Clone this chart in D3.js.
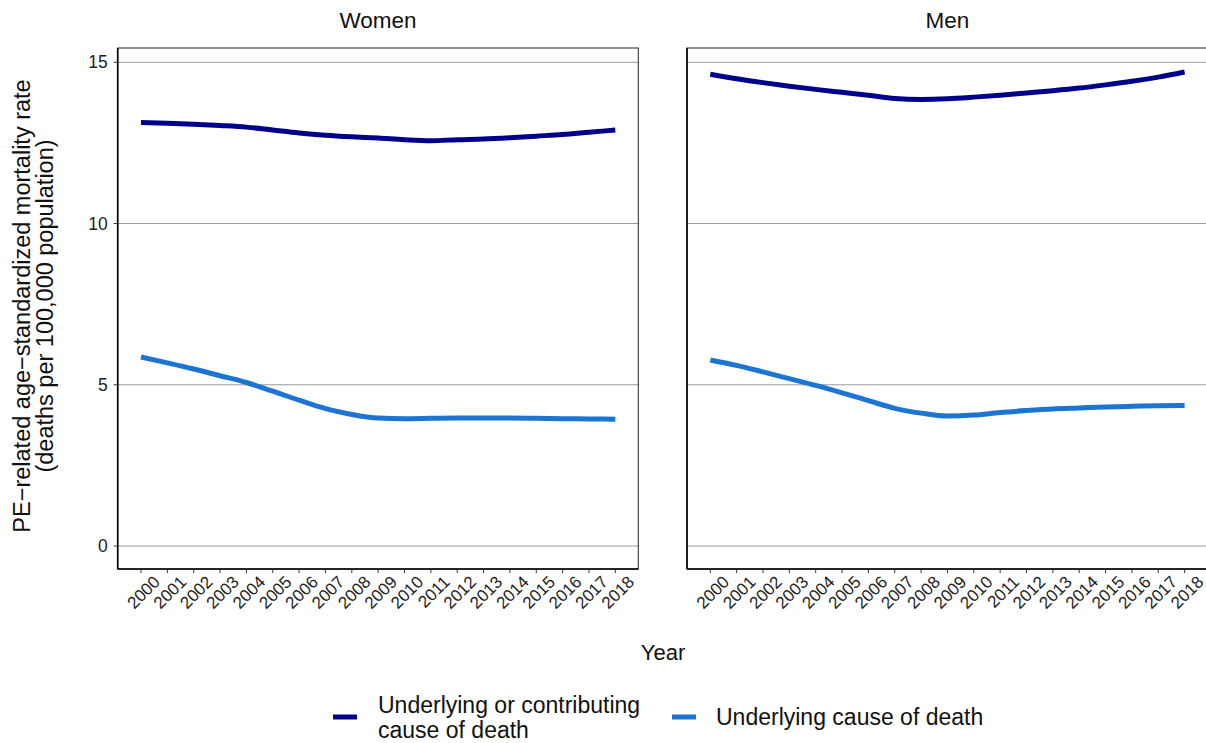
<!DOCTYPE html>
<html><head><meta charset="utf-8">
<script src="https://cdn.jsdelivr.net/npm/d3@7"></script>
<style>body{margin:0;background:#fff}svg{display:block;font-family:"Liberation Sans",Arial,sans-serif}</style>
</head><body><svg id="c" width="1206" height="743"></svg>
<script>
const years = d3.range(2000, 2019);
const panels = ["Women", "Men"];
const seriesNames = ["Underlying or contributing cause of death", "Underlying cause of death"];
const womenContributing = [13.13,13.11,13.08,13.04,12.99,12.90,12.81,12.74,12.69,12.65,12.60,12.57,12.60,12.62,12.66,12.71,12.76,12.83,12.90];
const womenUnderlying  = [5.86,5.68,5.49,5.28,5.07,4.80,4.52,4.26,4.08,3.97,3.95,3.96,3.97,3.97,3.97,3.96,3.95,3.94,3.93];
const menContributing  = [14.63,14.49,14.37,14.26,14.16,14.07,13.98,13.88,13.85,13.87,13.92,13.98,14.05,14.12,14.20,14.30,14.41,14.54,14.70];
const menUnderlying    = [5.77,5.60,5.40,5.19,4.98,4.75,4.51,4.27,4.12,4.03,4.06,4.14,4.20,4.25,4.28,4.31,4.33,4.35,4.36];
const yTicks = [0, 5, 10, 15];
const colors = ["#00008B", "#1C74D3"];

const data = {
  Women: [womenContributing, womenUnderlying],
  Men: [menContributing, menUnderlying]
};

const svg = d3.select("#c");
const panelX = [117.7, 687];
const panelW = 520.6, pTop = 48, pBottom = 569;

const y = d3.scaleLinear().domain([0, 15]).range([546, 62.3]);
const x = d3.scaleLinear().domain([2000, 2018]).range([23.3, 497.6]);

panels.forEach((p, i) => {
  const g = svg.append("g").attr("transform", `translate(${panelX[i]},0)`);
  g.selectAll(".grid").data(yTicks).join("line")
    .attr("x1", 0).attr("x2", panelW)
    .attr("y1", d => y(d)).attr("y2", d => y(d))
    .attr("stroke", "#9a9a9a").attr("stroke-width", 1);
  g.append("rect").attr("x", 0).attr("y", pTop).attr("width", panelW).attr("height", pBottom - pTop)
    .attr("fill", "none").attr("stroke", "#222").attr("stroke-width", 1);
  g.append("line").attr("x1", 0).attr("x2", 0).attr("y1", pTop).attr("y2", pBottom)
    .attr("stroke", "#000").attr("stroke-width", 1.6);
  g.append("line").attr("x1", 0).attr("x2", panelW).attr("y1", pBottom).attr("y2", pBottom)
    .attr("stroke", "#000").attr("stroke-width", 1.3);
  g.selectAll(".xt").data(years).join("line")
    .attr("x1", d => x(d)).attr("x2", d => x(d)).attr("y1", pBottom).attr("y2", pBottom + 4)
    .attr("stroke", "#333").attr("stroke-width", 1);
  g.selectAll(".xl").data(years).join("text")
    .attr("transform", d => `translate(${x(d) + 20},583) rotate(-45)`)
    .attr("text-anchor", "end").attr("font-size", 17).attr("fill", "#222")
    .text(d => d);
  if (i === 0) {
    g.selectAll(".yt").data(yTicks).join("line")
      .attr("x1", -4).attr("x2", 0).attr("y1", d => y(d)).attr("y2", d => y(d))
      .attr("stroke", "#333");
    g.selectAll(".yl").data(yTicks).join("text")
      .attr("x", -10).attr("y", d => y(d)).attr("dy", "0.35em")
      .attr("text-anchor", "end").attr("font-size", 17.5).attr("fill", "#222")
      .text(d => d);
  }
  const line = d3.line().x((d, j) => x(years[j])).y(d => y(d)).curve(d3.curveMonotoneX);
  data[p].forEach((s, k) => {
    g.append("path").attr("d", line(s)).attr("fill", "none")
      .attr("stroke", colors[k]).attr("stroke-width", 5);
  });
  g.append("text").attr("x", panelW / 2).attr("y", 28).attr("text-anchor", "middle")
    .attr("font-size", 22.5).attr("fill", "#111").text(p);
});

svg.append("text").attr("x", 663).attr("y", 660).attr("text-anchor", "middle")
  .attr("font-size", 22).attr("fill", "#111").text("Year");
const yl = svg.append("text").attr("transform", "translate(0,306) rotate(-90)")
  .attr("text-anchor", "middle").attr("font-size", 23.5).attr("fill", "#111");
yl.append("tspan").attr("x", 0).attr("y", 30).text("PE\u2212related age\u2212standardized mortality rate");
yl.append("tspan").attr("x", 0).attr("y", 53).text("(deaths per 100,000 population)");

const leg = [
  {k: 0, x: 333, lines: ["Underlying or contributing", "cause of death"]},
  {k: 1, x: 672, lines: ["Underlying cause of death"]}
];
leg.forEach(l => {
  svg.append("line").attr("x1", l.x).attr("x2", l.x + 24).attr("y1", 717).attr("y2", 717)
    .attr("stroke", colors[l.k]).attr("stroke-width", 5);
  const t = svg.append("text").attr("font-size", 23).attr("fill", "#111");
  if (l.lines.length === 2) {
    t.append("tspan").attr("x", l.x + 45).attr("y", 713).text(l.lines[0]);
    t.append("tspan").attr("x", l.x + 45).attr("y", 738).text(l.lines[1]);
  } else {
    t.append("tspan").attr("x", l.x + 44).attr("y", 725).text(l.lines[0]);
  }
});
</script></body></html>
